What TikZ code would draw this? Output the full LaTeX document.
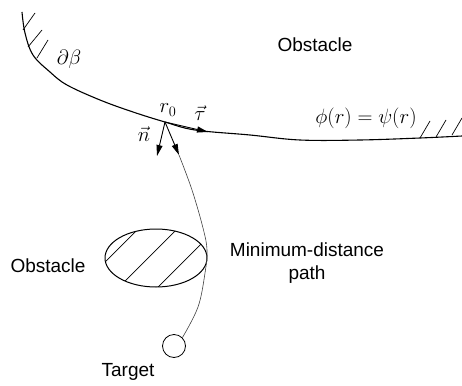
\documentclass[tikz,border=0pt]{standalone}
\usepackage{fontspec}
\setmainfont{Liberation Sans}
\usetikzlibrary{arrows.meta,shapes.geometric}
\begin{document}
\begin{tikzpicture}[x=1pt,y=-1pt,
  lbl/.style={font=\fontsize{19}{23}\selectfont, inner sep=0pt},
  mlbl/.style={font=\fontsize{20}{23}\selectfont, inner sep=0pt},
  bnd/.style={line width=1.1pt},
  hatch/.style={line width=0.7pt},
  arr/.style={line width=0.9pt, -{Triangle[length=11pt,width=6pt]}},
  pathline/.style={line width=0.6pt, black!75}]
\useasboundingbox (0,0) rectangle (462,385);
% boundary of obstacle
\draw[bnd] plot[smooth, tension=0.6] coordinates {(22,12) (25,33) (33,55) (50,72) (67,85) (100,100) (133,112) (165,122) (195,130) (250,135) (300,140) (360,140) (420,138) (462,136)};
% hatches left
\draw[hatch] (23,30)--(35,13) (28,47)--(42,30) (37,58)--(48,40);
% hatches right
\draw[hatch] (420,138)--(430,121) (436,137)--(446,120) (452,135)--(462,118);
% points
\coordinate (r0) at (165,122);
\coordinate (tt) at (208,132);
\coordinate (nt) at (157,156);
\coordinate (pt) at (179,155);
% obstacle ellipse
\node[draw, ellipse, line width=1pt, minimum width=102pt, minimum height=58pt, inner sep=0pt] (ob) at (156,258) {};
\begin{scope}
\clip (156,258) ellipse [x radius=51, y radius=29];
\draw[hatch] (80,287)--(150,217) (119,287)--(189,217) (158,287)--(228,217);
\end{scope}
% target
\node[draw, circle, minimum size=23pt, inner sep=0pt, line width=0.8pt] (tc) at (174,346) {};
% path
\draw[pathline] plot[smooth, tension=0.6] coordinates {(179,155) (192,190) (203,228) (207,250) (205,273) (198,307) (tc.45)};
% arrows
\draw[arr] (r0) -- (tt);
\draw[arr] (r0) -- (nt);
\draw[arr] (r0) -- (pt);
% labels
\node[lbl] (obs1) at (315,45) {Obstacle};
\node[lbl] (obs2) at (48,266) {Obstacle};
\node[mlbl] (db) at (69,59) {$\partial\beta$};
\node[mlbl] (r0l) at (168,110) {$r_0$};
\node[mlbl] (taul) at (200,113) {$\vec\tau$};
\node[mlbl] (nl) at (144,134) {$\vec n$};
\node[mlbl] (phi) at (366,118) {$\phi(r)=\psi(r)$};
\node[lbl, align=center] (mdp) at (307,263) {Minimum-distance\\path};
\node[lbl] (tgt) at (128,372) {Target};
\end{tikzpicture}
\end{document}
